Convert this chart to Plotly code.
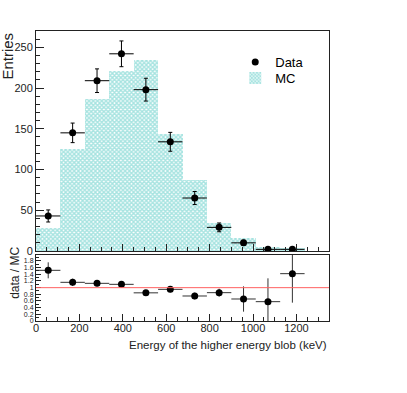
import plotly.graph_objects as go
from plotly.subplots import make_subplots

# binning: 12 bins of 112.5 keV from 0 to 1350 keV
BIN_WIDTH = 112.5
energy = [56.25, 168.75, 281.25, 393.75, 506.25, 618.75,
          731.25, 843.75, 956.25, 1068.75, 1181.25, 1293.75]

mc = [28, 125, 186, 221, 235, 143, 87, 34.5, 16.5, 5, 3.7, 0]

data = [43, 145, 209, 242, 198, 134, 65, 29, 10, 2, 2]
data_err = [7.4, 12, 14.5, 15.8, 14, 11.6, 8, 5.4, 3.2, 1.4, 1.4]

ratio = [1.52, 1.16, 1.13, 1.10, 0.845, 0.95, 0.75, 0.85, 0.66, 0.58, 1.42]
ratio_err = [0.24, 0.11, 0.09, 0.08, 0.07, 0.09, 0.10, 0.12, 0.38, 0.70, 0.87]

x_ticks = [0, 200, 400, 600, 800, 1000, 1200]

FONT = "Liberation Sans, Arial, sans-serif"
AXIS_COLOR = "#222222"

fig = make_subplots(rows=2, cols=1, shared_xaxes=True)

# ── top pad: data vs MC ──────────────────────────────────────────────────────
fig.add_trace(go.Bar(
    x=energy, y=mc, width=BIN_WIDTH, name="MC", legend="legend2",
    marker=dict(color="white", line_width=0,
                pattern=dict(shape="x", size=3, solidity=0.7,
                             fgcolor="#4ec8c2", bgcolor="#ffffff")),
), row=1, col=1)

fig.add_trace(go.Scatter(
    x=energy[:len(data)], y=data, mode="markers", name="Data",
    legend="legend",
    marker=dict(color="black", size=7),
    error_x=dict(type="constant", value=BIN_WIDTH / 2, width=0,
                 thickness=1, color="black"),
    error_y=dict(type="data", array=data_err, width=2,
                 thickness=1, color="black"),
), row=1, col=1)

# ── bottom pad: ratio ────────────────────────────────────────────────────────
fig.add_trace(go.Scatter(
    x=energy[:len(ratio)], y=ratio, mode="markers", showlegend=False,
    marker=dict(color="black", size=7),
    error_x=dict(type="constant", value=BIN_WIDTH / 2, width=0,
                 thickness=1, color="#333333"),
    error_y=dict(type="data", array=ratio_err, width=0,
                 thickness=1, color="#333333"),
), row=2, col=1)

fig.add_hline(y=1, line=dict(color="#ff6161", width=1), row=2, col=1)

axis_common = dict(showline=True, linecolor=AXIS_COLOR, linewidth=1,
                   mirror=True, showgrid=False, zeroline=False,
                   automargin=False,
                   ticks="inside", tickcolor=AXIS_COLOR,
                   tickfont=dict(family=FONT, size=11, color="#222222"))

fig.update_xaxes(**axis_common, range=[0, 1350], tickvals=x_ticks,
                 ticklen=7, ticklabelstandoff=-3,
                 minor=dict(ticks="inside", dtick=50, tick0=0, ticklen=4,
                            tickcolor=AXIS_COLOR))
fig.update_xaxes(showticklabels=False, row=1, col=1)

fig.update_yaxes(**axis_common, row=1, col=1)
fig.update_yaxes(range=[0, 270], tick0=0, dtick=50, ticklen=8,
                 minor=dict(ticks="inside", dtick=10, ticklen=4,
                            tickcolor=AXIS_COLOR),
                 row=1, col=1)

fig.update_yaxes(**axis_common, row=2, col=1)
fig.update_yaxes(range=[0, 1.98], tick0=0, dtick=0.2, ticklen=5,
                 tickfont=dict(family=FONT, size=7, color="#222222"),
                 minor=dict(ticks="inside", dtick=0.1, ticklen=3,
                            tickcolor=AXIS_COLOR),
                 row=2, col=1)

legend_common = dict(xanchor="left", yanchor="middle",
                     bgcolor="rgba(0,0,0,0)", itemwidth=30,
                     font=dict(family=FONT, size=13, color="black"))

fig.update_layout(
    width=407, height=393,
    margin=dict(l=36, r=78, t=31, b=72),
    paper_bgcolor="white", plot_bgcolor="white",
    bargap=0,
    font=dict(family=FONT, color="black"),
    yaxis=dict(domain=[0.2414, 1.0]),
    yaxis2=dict(domain=[0.0, 0.2276]),
    legend=dict(x=0.68, y=0.893, **legend_common),
    legend2=dict(x=0.68, y=0.838, **legend_common),
    annotations=[
        dict(text="Energy of the higher energy blob (keV)",
             xref="paper", yref="paper", x=1.0, y=-0.083,
             xanchor="right", yanchor="middle", showarrow=False,
             font=dict(family=FONT, size=11.5, color="#222222")),
        dict(text="Entries", textangle=-90,
             xref="paper", yref="paper", x=-0.0956, y=1.003,
             xanchor="center", yanchor="top", showarrow=False,
             font=dict(family=FONT, size=15, color="#222222")),
        dict(text="data / MC", textangle=-90,
             xref="paper", yref="paper", x=-0.0717, y=0.166,
             xanchor="center", yanchor="middle", showarrow=False,
             font=dict(family=FONT, size=12, color="#222222")),
    ],
)

# drop the browser's default 8 px body margin so the figure sits at (0, 0)
fig.write_html("out.html", config={"displayModeBar": False},
               post_script="document.body.style.margin = '0';")
